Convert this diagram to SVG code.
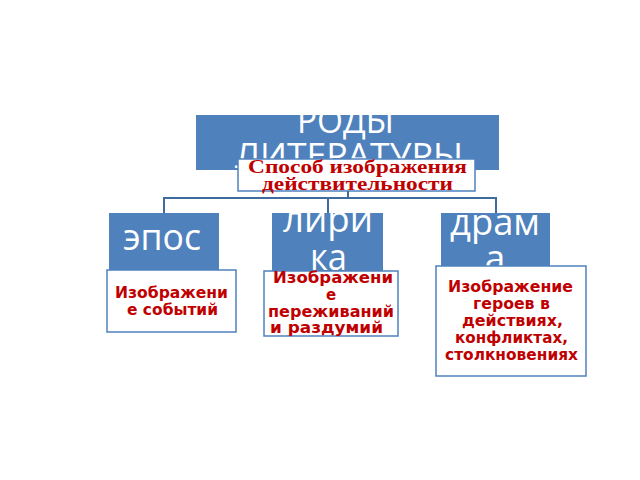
<svg xmlns="http://www.w3.org/2000/svg" width="640" height="480" viewBox="0 0 640 480">
<style>
.blue{fill:#4F81BD}
.desc{fill:#FFFFFF;stroke:#4F81BD;stroke-width:1.5}
.big{font-family:"Open Sans","Liberation Sans",sans-serif;fill:#FFFFFF;font-size:37px}
.sub{font-family:"Liberation Serif",serif;font-weight:bold;fill:#C00000;font-size:18px}
.dt{font-family:"DejaVu Sans","Liberation Sans",sans-serif;font-weight:bold;fill:#C00000;font-size:15px}
.conn{fill:none;stroke:#3E6C9F;stroke-width:2}
</style>
<rect width="640" height="480" fill="#FFFFFF"/>
<g id="root">
<rect class="blue" x="196" y="115" width="303" height="55"/>
<text class="big" style="font-size:35px" x="297" y="133" textLength="97" lengthAdjust="spacingAndGlyphs">РОДЫ</text>
<text class="big" style="font-size:35px" x="235" y="168" textLength="228" lengthAdjust="spacingAndGlyphs">ЛИТЕРАТУРЫ</text>
<rect class="desc" x="238" y="159" width="237" height="32"/>
<text class="sub" x="248" y="173" textLength="219" lengthAdjust="spacingAndGlyphs">Способ изображения</text>
<text class="sub" x="262" y="190" textLength="191" lengthAdjust="spacingAndGlyphs">действительности</text>
</g>
<g id="connectors">
<path class="conn" d="M348,191 V198 M164,198 H496 M164,197 V213 M328,197 V213 M496,197 V213"/>
</g>
<g id="epos">
<rect class="blue" x="109" y="213" width="110" height="58"/>
<text class="big" x="123" y="250" textLength="78" lengthAdjust="spacingAndGlyphs">эпос</text>
<rect class="desc" x="107" y="270" width="129" height="62"/>
<text class="dt" x="115" y="298" textLength="113" lengthAdjust="spacingAndGlyphs">Изображени</text>
<text class="dt" x="127" y="315" textLength="91" lengthAdjust="spacingAndGlyphs">е событий</text>
</g>
<g id="lirika">
<rect class="blue" x="272" y="213" width="111" height="58"/>
<text class="big" x="283" y="232" textLength="90" lengthAdjust="spacingAndGlyphs">лири</text>
<text class="big" x="310" y="270" textLength="37" lengthAdjust="spacingAndGlyphs">ка</text>
<rect class="desc" x="264" y="271" width="134" height="65"/>
<text class="dt" x="273" y="283" textLength="120" lengthAdjust="spacingAndGlyphs">Изображени</text>
<text class="dt" x="331" y="300" text-anchor="middle">е</text>
<text class="dt" x="268" y="317" textLength="126" lengthAdjust="spacingAndGlyphs">переживаний</text>
<text class="dt" x="270" y="333" textLength="113" lengthAdjust="spacingAndGlyphs">и раздумий</text>
</g>
<g id="drama">
<rect class="blue" x="441" y="213" width="109" height="55"/>
<text class="big" x="450" y="235" textLength="90" lengthAdjust="spacingAndGlyphs">драм</text>
<text class="big" x="495" y="271" text-anchor="middle">а</text>
<rect class="desc" x="436" y="266" width="150" height="110"/>
<text class="dt" x="448" y="292" textLength="125" lengthAdjust="spacingAndGlyphs">Изображение</text>
<text class="dt" x="473" y="309" textLength="77" lengthAdjust="spacingAndGlyphs">героев в</text>
<text class="dt" x="462" y="326" textLength="101" lengthAdjust="spacingAndGlyphs">действиях,</text>
<text class="dt" x="455" y="343" textLength="113" lengthAdjust="spacingAndGlyphs">конфликтах,</text>
<text class="dt" x="445" y="360" textLength="133" lengthAdjust="spacingAndGlyphs">столкновениях</text>
</g>
</svg>
